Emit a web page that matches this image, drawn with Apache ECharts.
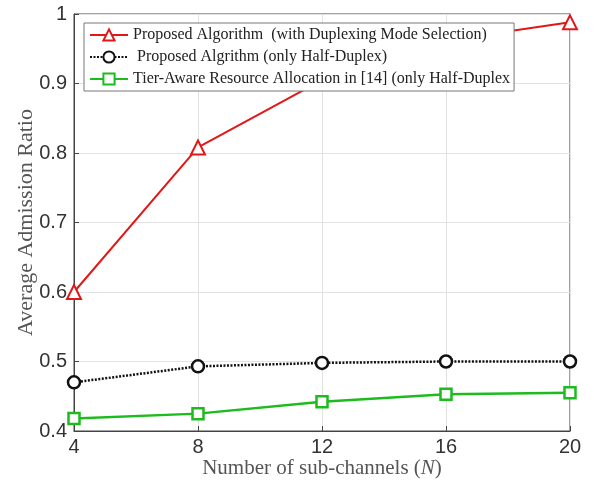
<!DOCTYPE html>
<html><head><meta charset="utf-8">
<script src="https://cdn.jsdelivr.net/npm/echarts@6/dist/echarts.min.js"></script>
<style>html,body{margin:0;padding:0;background:#fff}#c{width:594px;height:482px}</style>
</head><body><div id="c"></div>
<script>
const categories = [4, 8, 12, 16, 20];
const seriesNames = [
  'Proposed Algorithm  (with Duplexing Mode Selection)',
  ' Proposed Algrithm (only Half-Duplex)',
  'Tier-Aware Resource Allocation in [14] (only Half-Duplex'
];
const proposedDuplex = [0.600, 0.808, 0.905, 0.962, 0.988];
const proposedHalf = [0.470, 0.493, 0.498, 0.500, 0.500];
const tierAware = [0.418, 0.425, 0.442, 0.453, 0.455];
const yTicks = [0.4, 0.5, 0.6, 0.7, 0.8, 0.9, 1];

const tickFont = "'Liberation Sans', Arial, sans-serif";
const toPairs = arr => categories.map((c, i) => [c, arr[i]]);
const chart = echarts.init(document.getElementById('c'));
chart.setOption({
  animation: false,
  backgroundColor: '#fff',
  grid: { left: 74, right: 24, top: 14, bottom: 51, show: true, borderColor: '#444', borderWidth: 1,
          containLabel: false, outerBoundsMode: 'none' },
  legend: {
    orient: 'vertical', left: 84, top: 23,
    backgroundColor: '#fff', borderColor: '#777', borderWidth: 1,
    padding: [4, 4, 4, 5], itemGap: 6, itemWidth: 38, itemHeight: 14,
    textStyle: { fontFamily: 'Liberation Serif', fontSize: 16, lineHeight: 16, color: '#222' },
    data: seriesNames
  },
  xAxis: {
    type: 'value', min: 4, max: 20, interval: 4,
    name: 'Number of sub-channels ({i|N})', nameLocation: 'middle', nameGap: 27, nameMoveOverlap: false,
    nameTextStyle: { fontFamily: 'Liberation Serif', fontSize: 21, color: '#555',
      rich: { i: { fontFamily: 'Liberation Serif', fontStyle: 'italic', fontSize: 21, color: '#555' } } },
    axisLine: { lineStyle: { color: '#444' } },
    axisTick: { inside: true, length: 5, lineStyle: { color: '#444' } },
    axisLabel: { fontFamily: tickFont, fontSize: 20, color: '#333', margin: 6 },
    splitLine: { show: true, lineStyle: { color: '#e2e2e2' } }
  },
  yAxis: {
    type: 'value', min: 0.4, max: 1, interval: 0.1,
    name: 'Average Admission Ratio', nameLocation: 'middle', nameGap: 37, nameMoveOverlap: false,
    nameTextStyle: { fontFamily: 'Liberation Serif', fontSize: 22, color: '#555' },
    axisLine: { show: true, lineStyle: { color: '#444' } },
    axisTick: { show: true, inside: true, length: 5, lineStyle: { color: '#444' } },
    axisLabel: { fontFamily: tickFont, fontSize: 20, color: '#333', margin: 7,
      formatter: v => String(Math.round(v * 10) / 10) },
    splitLine: { show: true, lineStyle: { color: '#e2e2e2' } }
  },
  series: [
    { name: seriesNames[0], type: 'line', data: toPairs(proposedDuplex),
      symbol: 'triangle', symbolSize: 14, showAllSymbol: true,
      lineStyle: { color: '#e01818', width: 2 },
      itemStyle: { color: '#fff', borderColor: '#e01818', borderWidth: 2 } },
    { name: seriesNames[1], type: 'line', data: toPairs(proposedHalf),
      symbol: 'circle', symbolSize: 12,
      lineStyle: { color: '#111', width: 2.5, type: [2, 1.5] },
      itemStyle: { color: '#fff', borderColor: '#111', borderWidth: 2.5 } },
    { name: seriesNames[2], type: 'line', data: toPairs(tierAware),
      symbol: 'rect', symbolSize: 11,
      lineStyle: { color: '#1dbb1d', width: 2.5 },
      itemStyle: { color: '#fff', borderColor: '#1dbb1d', borderWidth: 2.5 } }
  ]
});
</script></body></html>
